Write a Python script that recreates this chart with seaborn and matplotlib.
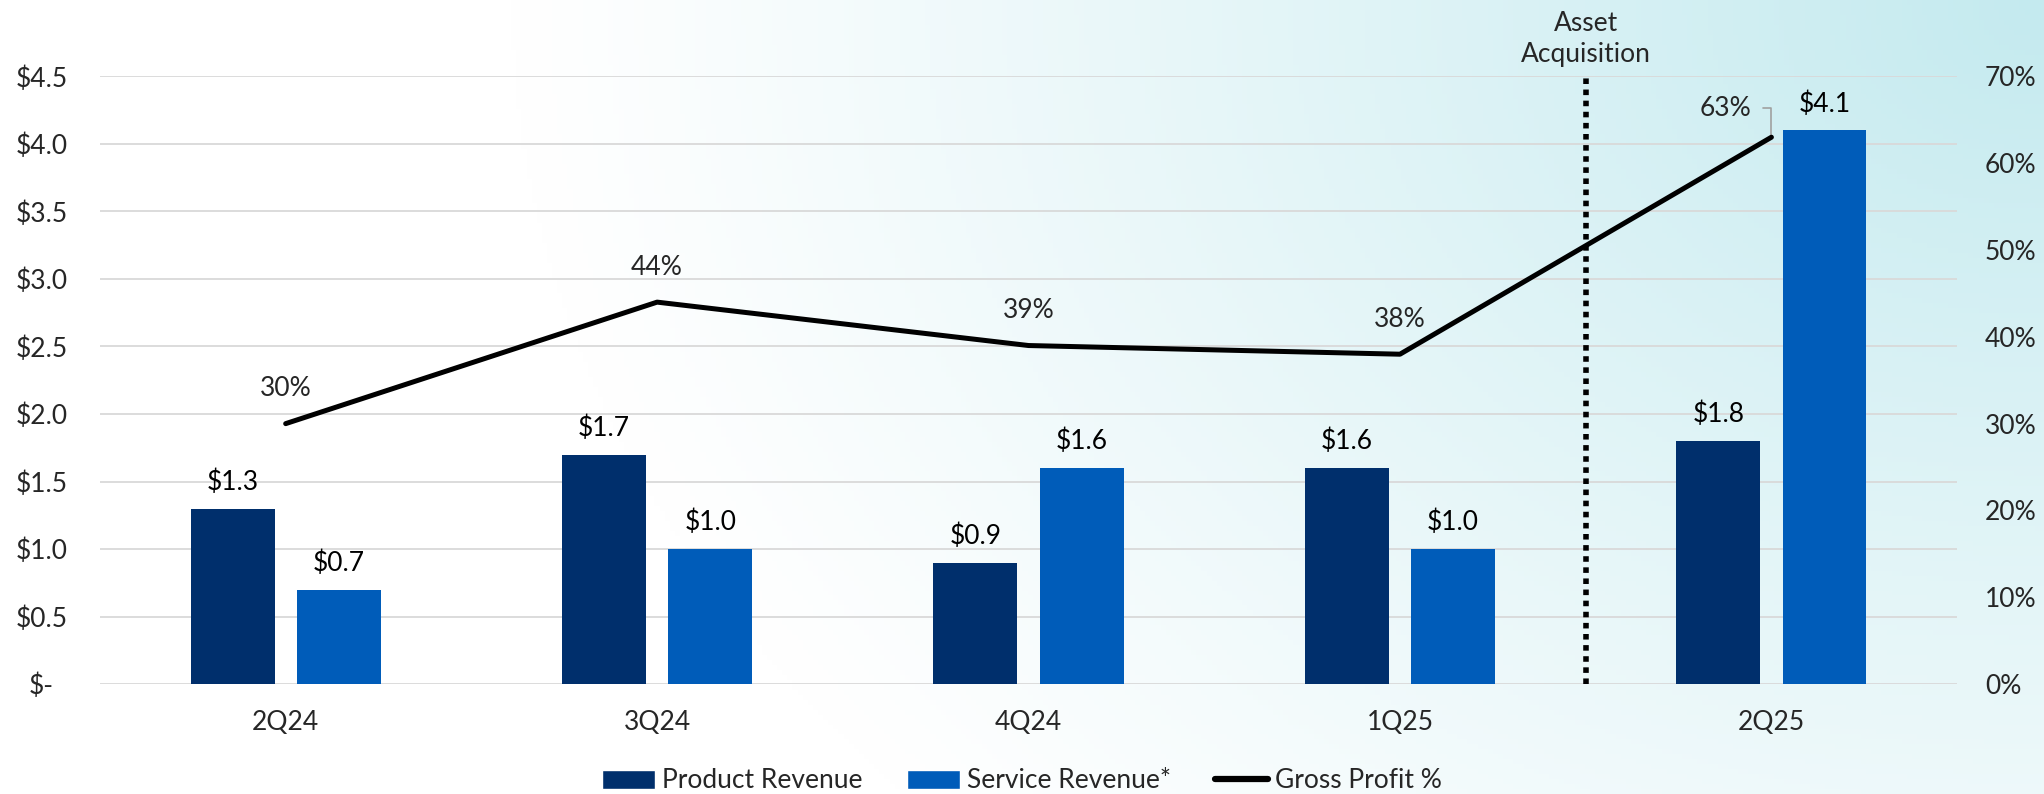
import numpy as np
import pandas as pd
import matplotlib
matplotlib.use("Agg")
import matplotlib.pyplot as plt
from matplotlib.patches import Patch
from matplotlib.lines import Line2D
import seaborn as sns

# ---- data ----
quarters = ["2Q24", "3Q24", "4Q24", "1Q25", "2Q25"]
product_rev = [1.3, 1.7, 0.9, 1.6, 1.8]
service_rev = [0.7, 1.0, 1.6, 1.0, 4.1]
gross_profit_pct = [30, 44, 39, 38, 63]
series_names = ["Product Revenue", "Service Revenue*"]
line_name = "Gross Profit %"
event_label = "Asset\nAcquisition"
event_pos = 3.5  # between 1Q25 and 2Q25

navy = "#002f6c"
blue = "#005cb9"
grid_col = "#d9d9d9"
fs = 19

df = pd.DataFrame({
    "quarter": quarters * 2,
    "revenue": product_rev + service_rev,
    "series": [series_names[0]] * len(quarters) + [series_names[1]] * len(quarters),
})

sns.set_theme(style="white")
plt.rcParams["font.family"] = ["Lato", "DejaVu Sans"]
plt.rcParams["font.size"] = fs

fig = plt.figure(figsize=(20.44, 7.94), dpi=100, facecolor="white")

# background gradient (white -> light teal towards top right)
bg = fig.add_axes([0, 0, 1, 1], zorder=-10)
gx, gy = np.meshgrid(np.linspace(0, 1, 400), np.linspace(0, 1, 160))
d = np.sqrt(((1 - gx) / 0.75) ** 2 + (gy / 1.5) ** 2)
a = np.clip(1 - d, 0, 1) ** 1.1
teal = np.array([196, 234, 239]) / 255
img = (1 - a[..., None]) * 1.0 + a[..., None] * teal
bg.imshow(img, extent=[0, 1, 0, 1], aspect="auto", origin="upper")
bg.axis("off")

ax = fig.add_axes([0.0489, 0.1385, 0.9086, 0.7652])
ax.set_facecolor("none")

sns.barplot(data=df, x="quarter", y="revenue", hue="series",
            palette=[navy, blue], width=0.572, gap=0.21, linewidth=0,
            saturation=1, ax=ax, legend=False, zorder=3)

for cont in ax.containers:
    ax.bar_label(cont, labels=[f"${v:.1f}" for v in cont.datavalues],
                 padding=10, fontsize=fs, color="black")

ax.set_xlim(-0.5, 4.5)
ax.set_ylim(0, 4.5)
yt = np.arange(0, 4.51, 0.5)
ax.set_yticks(yt)
ax.set_yticklabels(["$-" if v == 0 else f"${v:.1f}" for v in yt], ha="center")
ax.tick_params(axis="y", length=0, pad=42, labelsize=fs)
ax.tick_params(axis="x", length=0, pad=19, labelsize=fs)
ax.set_xlabel("")
ax.set_ylabel("")
ax.yaxis.grid(True, color=grid_col, lw=1.3, zorder=0)
ax.set_axisbelow(True)
for s in ax.spines.values():
    s.set_visible(False)

# acquisition marker
ax.axvline(event_pos, color="black", lw=4, linestyle=(0, (1, 1)), zorder=4)
ax.annotate(event_label, xy=(event_pos, 1), xycoords=("data", "axes fraction"),
            xytext=(0, 7), textcoords="offset points", ha="center", va="bottom",
            fontsize=fs, linespacing=1.3, annotation_clip=False)

# gross profit line on secondary axis
ax2 = ax.twinx()
sns.lineplot(x=quarters, y=gross_profit_pct, ax=ax2, color="black", lw=3.6,
             sort=False, zorder=5)
ax2.set_ylim(0, 70)
ax2.set_yticks(range(0, 71, 10))
ax2.set_yticklabels([f"{v}%" for v in range(0, 71, 10)])
ax2.tick_params(axis="y", length=0, pad=20, labelsize=fs)
ax2.grid(False)
for s in ax2.spines.values():
    s.set_visible(False)

for i, v in enumerate(gross_profit_pct):
    if i < len(gross_profit_pct) - 1:
        ax2.annotate(f"{v}%", xy=(i, v), xytext=(0, 25), textcoords="offset points",
                     ha="center", va="center", fontsize=fs)
    else:
        ax2.annotate(f"{v}%", xy=(i, v), xytext=(-33, 21), textcoords="offset points",
                     ha="center", va="center", fontsize=fs,
                     arrowprops=dict(arrowstyle="-", color="#a0a0a0", lw=1.2,
                                     shrinkA=6, shrinkB=1,
                                     connectionstyle="angle,angleA=0,angleB=90,rad=0"))

handles = [Patch(facecolor=navy), Patch(facecolor=blue),
           Line2D([], [], color="black", lw=4.5)]
fig.legend(handles, series_names + [line_name], loc="center",
           bbox_to_anchor=(0.5, 1 - 781 / 794), ncol=3, frameon=False,
           fontsize=fs, handlelength=2.0, handleheight=0.7,
           handletextpad=0.25, columnspacing=1.7)

fig.savefig("out.png", dpi=100, facecolor=fig.get_facecolor())
